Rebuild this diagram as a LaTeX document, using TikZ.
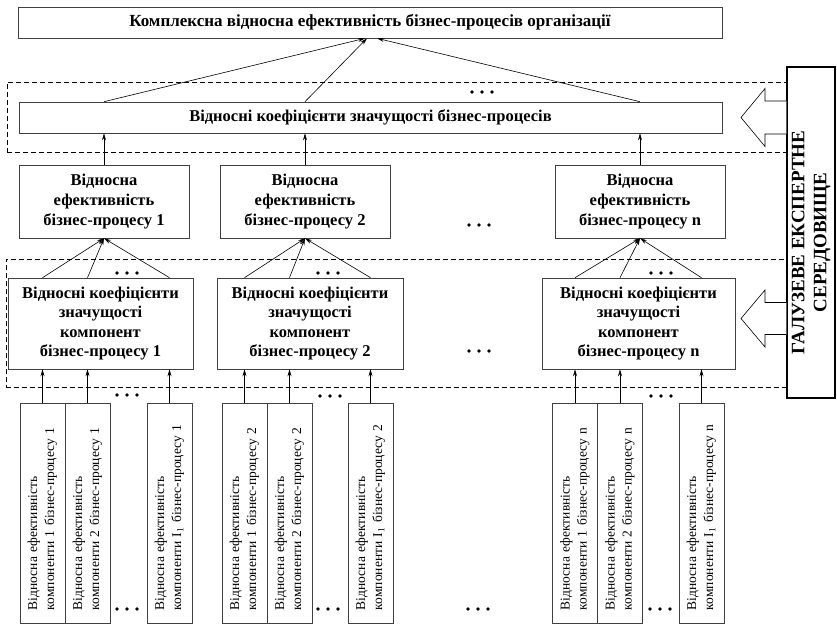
\documentclass[tikz,border=0pt]{standalone}
\usepackage{fontspec}
\setmainfont{Liberation Serif}
\usetikzlibrary{arrows.meta,calc}
\begin{document}
\begin{tikzpicture}[x=1pt,y=-1pt,
  box/.style={draw=black!75, line width=0.6pt, align=center, inner sep=0pt, font=\bfseries\fontsize{16.5}{20}\selectfont},
  cbox/.style={box, font=\bfseries\fontsize{16.5}{19.5}\selectfont, minimum height=91pt},
  pbox/.style={box, minimum width=170pt, minimum height=73pt},
  frame/.style={draw, dash pattern=on 5pt off 3pt, line width=0.6pt, inner sep=0pt},
  comp/.style={draw=black!75, line width=0.6pt, rotate=90, minimum width=220pt, minimum height=45pt, text width=194pt, inner xsep=13pt, inner ysep=0pt, align=left, font=\fontsize{13.5}{17}\selectfont},
  arr/.style={-{Stealth[length=7pt,width=4pt]}, line width=0.6pt},
  blockarrow/.style={line width=0.6pt, fill=white},
  dots/.pic={\foreach \d in {-10,0,10} \fill (\d,0) circle (1.8pt);}
]
\useasboundingbox (0,0) rectangle (837,626);

% dashed frames
\node[frame, minimum width=780pt, minimum height=70pt] (fr1) at (397,117) {};
\node[frame, minimum width=781pt, minimum height=128pt] (fr2) at (396.5,323) {};

% top levels
\node[box, font=\bfseries\fontsize{17}{20}\selectfont, minimum width=704pt, minimum height=31pt] (title) at (370,22.5) {Комплексна відносна ефективність бізнес-процесів організації};
\node[box, minimum width=703pt, minimum height=31pt] (coef) at (370.5,117.5) {Відносні коефіцієнти значущості бізнес-процесів};

% process efficiency
\node[pbox] (p1) at (104,201.5) {Відносна\\ефективність\\бізнес-процесу 1};
\node[pbox] (p2) at (305,201.5) {Відносна\\ефективність\\бізнес-процесу 2};
\node[pbox] (pn) at (640,201.5) {Відносна\\ефективність\\бізнес-процесу n};

% component coefficients
\node[cbox, minimum width=185pt] (c1) at (100.5,323.5) {Відносні коефіцієнти\\значущості\\компонент\\бізнес-процесу 1};
\node[cbox, minimum width=186pt] (c2) at (310,323.5) {Відносні коефіцієнти\\значущості\\компонент\\бізнес-процесу 2};
\node[cbox, minimum width=193pt] (cn) at (638.5,323.5) {Відносні коефіцієнти\\значущості\\компонент\\бізнес-процесу n};

% component efficiencies
\node[comp] (b11) at (42.5,513) {Відносна ефективність\\компоненти 1 бізнес-процесу 1};
\node[comp] (b12) at (87.5,513) {Відносна ефективність\\компоненти 2 бізнес-процесу 1};
\node[comp] (b1l) at (169.5,513) {Відносна ефективність\\компоненти I\textsubscript{1} бізнес-процесу 1};
\node[comp] (b21) at (244.5,513) {Відносна ефективність\\компоненти 1 бізнес-процесу 2};
\node[comp] (b22) at (289.5,513) {Відносна ефективність\\компоненти 2 бізнес-процесу 2};
\node[comp] (b2l) at (370.5,513) {Відносна ефективність\\компоненти I\textsubscript{1} бізнес-процесу 2};
\node[comp] (bn1) at (575,513) {Відносна ефективність\\компоненти 1 бізнес-процесу n};
\node[comp] (bn2) at (620,513) {Відносна ефективність\\компоненти 2 бізнес-процесу n};
\node[comp] (bnl) at (701.5,513) {Відносна ефективність\\компоненти I\textsubscript{1} бізнес-процесу n};

% expert environment
\node[draw, line width=1.2pt, rotate=90, minimum width=331pt, minimum height=48pt, inner sep=0pt, align=center, font=\bfseries\fontsize{19}{22}\selectfont] (env) at (811,232.5) {ГАЛУЗЕВЕ ЕКСПЕРТНЕ\hspace*{20pt}\\СЕРЕДОВИЩЕ\hspace*{20pt}};

% block arrows
\draw[blockarrow] (env.north |- 0,101) -- (765,101) -- (765,88.5) -- (741,117.5) -- (765,146.5) -- (765,134) -- (env.north |- 0,134);
\draw[blockarrow] (env.north |- 0,302.5) -- (765,302.5) -- (765,290) -- (741,318.5) -- (765,347) -- (765,334.5) -- (env.north |- 0,334.5);

% connectors
\foreach \b in {b11,b12,b1l} {
  \draw[arr] (\b.east) -- (\b.east |- c1.south);
  \draw[arr] (\b.east |- c1.north) -- (p1.south);
}
\foreach \b in {b21,b22,b2l} {
  \draw[arr] (\b.east) -- (\b.east |- c2.south);
  \draw[arr] (\b.east |- c2.north) -- (p2.south);
}
\foreach \b in {bn1,bn2,bnl} {
  \draw[arr] (\b.east) -- (\b.east |- cn.south);
  \draw[arr] (\b.east |- cn.north) -- (pn.south);
}
\foreach \p in {p1,p2,pn}
  \draw[arr] (\p.north) -- (\p.north |- coef.south);
\draw[arr] (coef.north -| p1.north) -- ([xshift=-5pt]title.south);
\draw[arr] (coef.north -| p2.north) -- ([xshift=-3pt]title.south);
\draw[arr] (coef.north -| pn.north) -- ([xshift=7pt]title.south);

% ellipses
\pic at (482,92) {dots};
\pic at (479,225) {dots};
\pic at (127,273) {dots};
\pic at (328,273) {dots};
\pic at (661,273) {dots};
\pic at (479,351) {dots};
\pic at (127,395) {dots};
\pic at (330,396) {dots};
\pic at (661,396) {dots};
\pic at (127,609) {dots};
\pic at (328,609) {dots};
\pic at (478,609) {dots};
\pic at (660,609) {dots};
\end{tikzpicture}
\end{document}
